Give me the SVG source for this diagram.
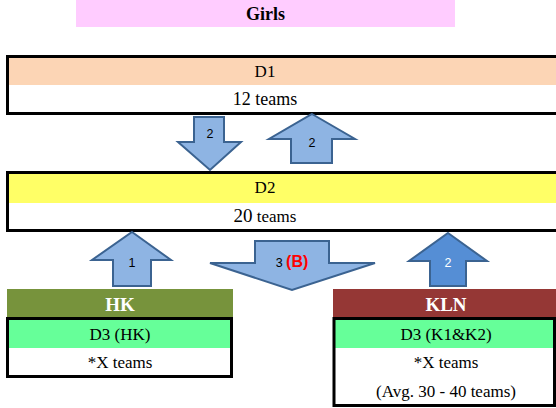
<svg xmlns="http://www.w3.org/2000/svg" width="556" height="408" viewBox="0 0 556 408">
<style>
.serif{font-family:"Liberation Serif","Times New Roman",serif;fill:#000;text-anchor:middle}
.t16{font-size:17px}
.hd{font-size:19px;font-weight:bold;fill:#fff}
.box{fill:none;stroke:#000;stroke-width:3}
.arr{fill:#8EB4E3;stroke:#3B6391;stroke-width:2;stroke-linejoin:miter}
.lbl{font-family:"Liberation Sans",Arial,sans-serif;font-size:12.5px;text-anchor:middle;fill:#000}
</style>
<rect width="556" height="408" fill="#fff"/>
<g id="title">
<rect x="76" y="0" width="379" height="27" fill="#FFCCFF"/>
<text class="serif" x="265.5" y="20" font-size="18" font-weight="bold">Girls</text>
</g>
<g id="d1">
<rect x="9" y="58" width="549" height="27" fill="#FCD5B5"/>
<rect x="9" y="85" width="549" height="27" fill="#fff"/>
<rect class="box" x="7.5" y="56.5" width="552" height="57"/>
<text class="serif t16" x="265" y="77">D1</text>
<text class="serif" x="265" y="105" font-size="18">12 teams</text>
</g>
<g id="d2">
<rect x="9" y="174" width="549" height="29" fill="#FFFF66"/>
<rect x="9" y="203" width="549" height="26" fill="#fff"/>
<rect class="box" x="7.5" y="172.5" width="552" height="58"/>
<text class="serif t16" x="265" y="193">D2</text>
<text class="serif t16" x="265" y="222"><tspan font-size="19">20</tspan> teams</text>
</g>
<g id="hk">
<rect x="7" y="289" width="226" height="28" fill="#77933C"/>
<rect x="9" y="320" width="222" height="28" fill="#66FF99"/>
<rect class="box" x="7.5" y="318.5" width="224" height="58"/>
<text class="serif hd" x="120" y="311">HK</text>
<text class="serif t16" x="120" y="340">D3 (HK)</text>
<text class="serif t16" x="120" y="368">*X teams</text>
</g>
<g id="kln">
<rect x="333" y="289" width="223" height="28" fill="#953735"/>
<rect x="335" y="320" width="219" height="28" fill="#66FF99"/>
<rect class="box" x="334" y="318.5" width="220.5" height="87"/>
<text class="serif hd" x="446" y="311">KLN</text>
<text class="serif t16" x="446" y="340">D3 (K1&amp;K2)</text>
<text class="serif t16" x="446" y="368">*X teams</text>
<text class="serif t16" x="446" y="397">(Avg. 30 - 40 teams)</text>
</g>
<g id="connectors">
<g id="down-d1-d2">
<polygon class="arr" points="194,117 224,117 224,142 241,142 210,170 178,142 194,142"/>
<text class="lbl" x="210" y="138">2</text>
</g>
<g id="up-d2-d1">
<polygon class="arr" points="312,114 355,139 332,139 332,163 291,163 291,139 269,139"/>
<text class="lbl" x="312" y="147">2</text>
</g>
<g id="up-hk-d2">
<polygon class="arr" points="132,232 171,260 151,260 151,286 113,286 113,260 92,260"/>
<text class="lbl" x="132" y="267">1</text>
</g>
<g id="down-d2">
<polygon class="arr" points="255,241 329,241 329,263 375,263 292,290 210,263 255,263"/>
<text class="lbl" x="292" y="267"><tspan>3 </tspan><tspan fill="#FF0000" font-weight="bold" font-size="16">(B)</tspan></text>
</g>
<g id="up-kln-d2">
<polygon class="arr" style="fill:#558ED5" points="448,233 487,261 466,261 466,286 430,286 430,261 409,261"/>
<text class="lbl" x="448" y="267" style="fill:#fff">2</text>
</g>
</g>
</svg>
